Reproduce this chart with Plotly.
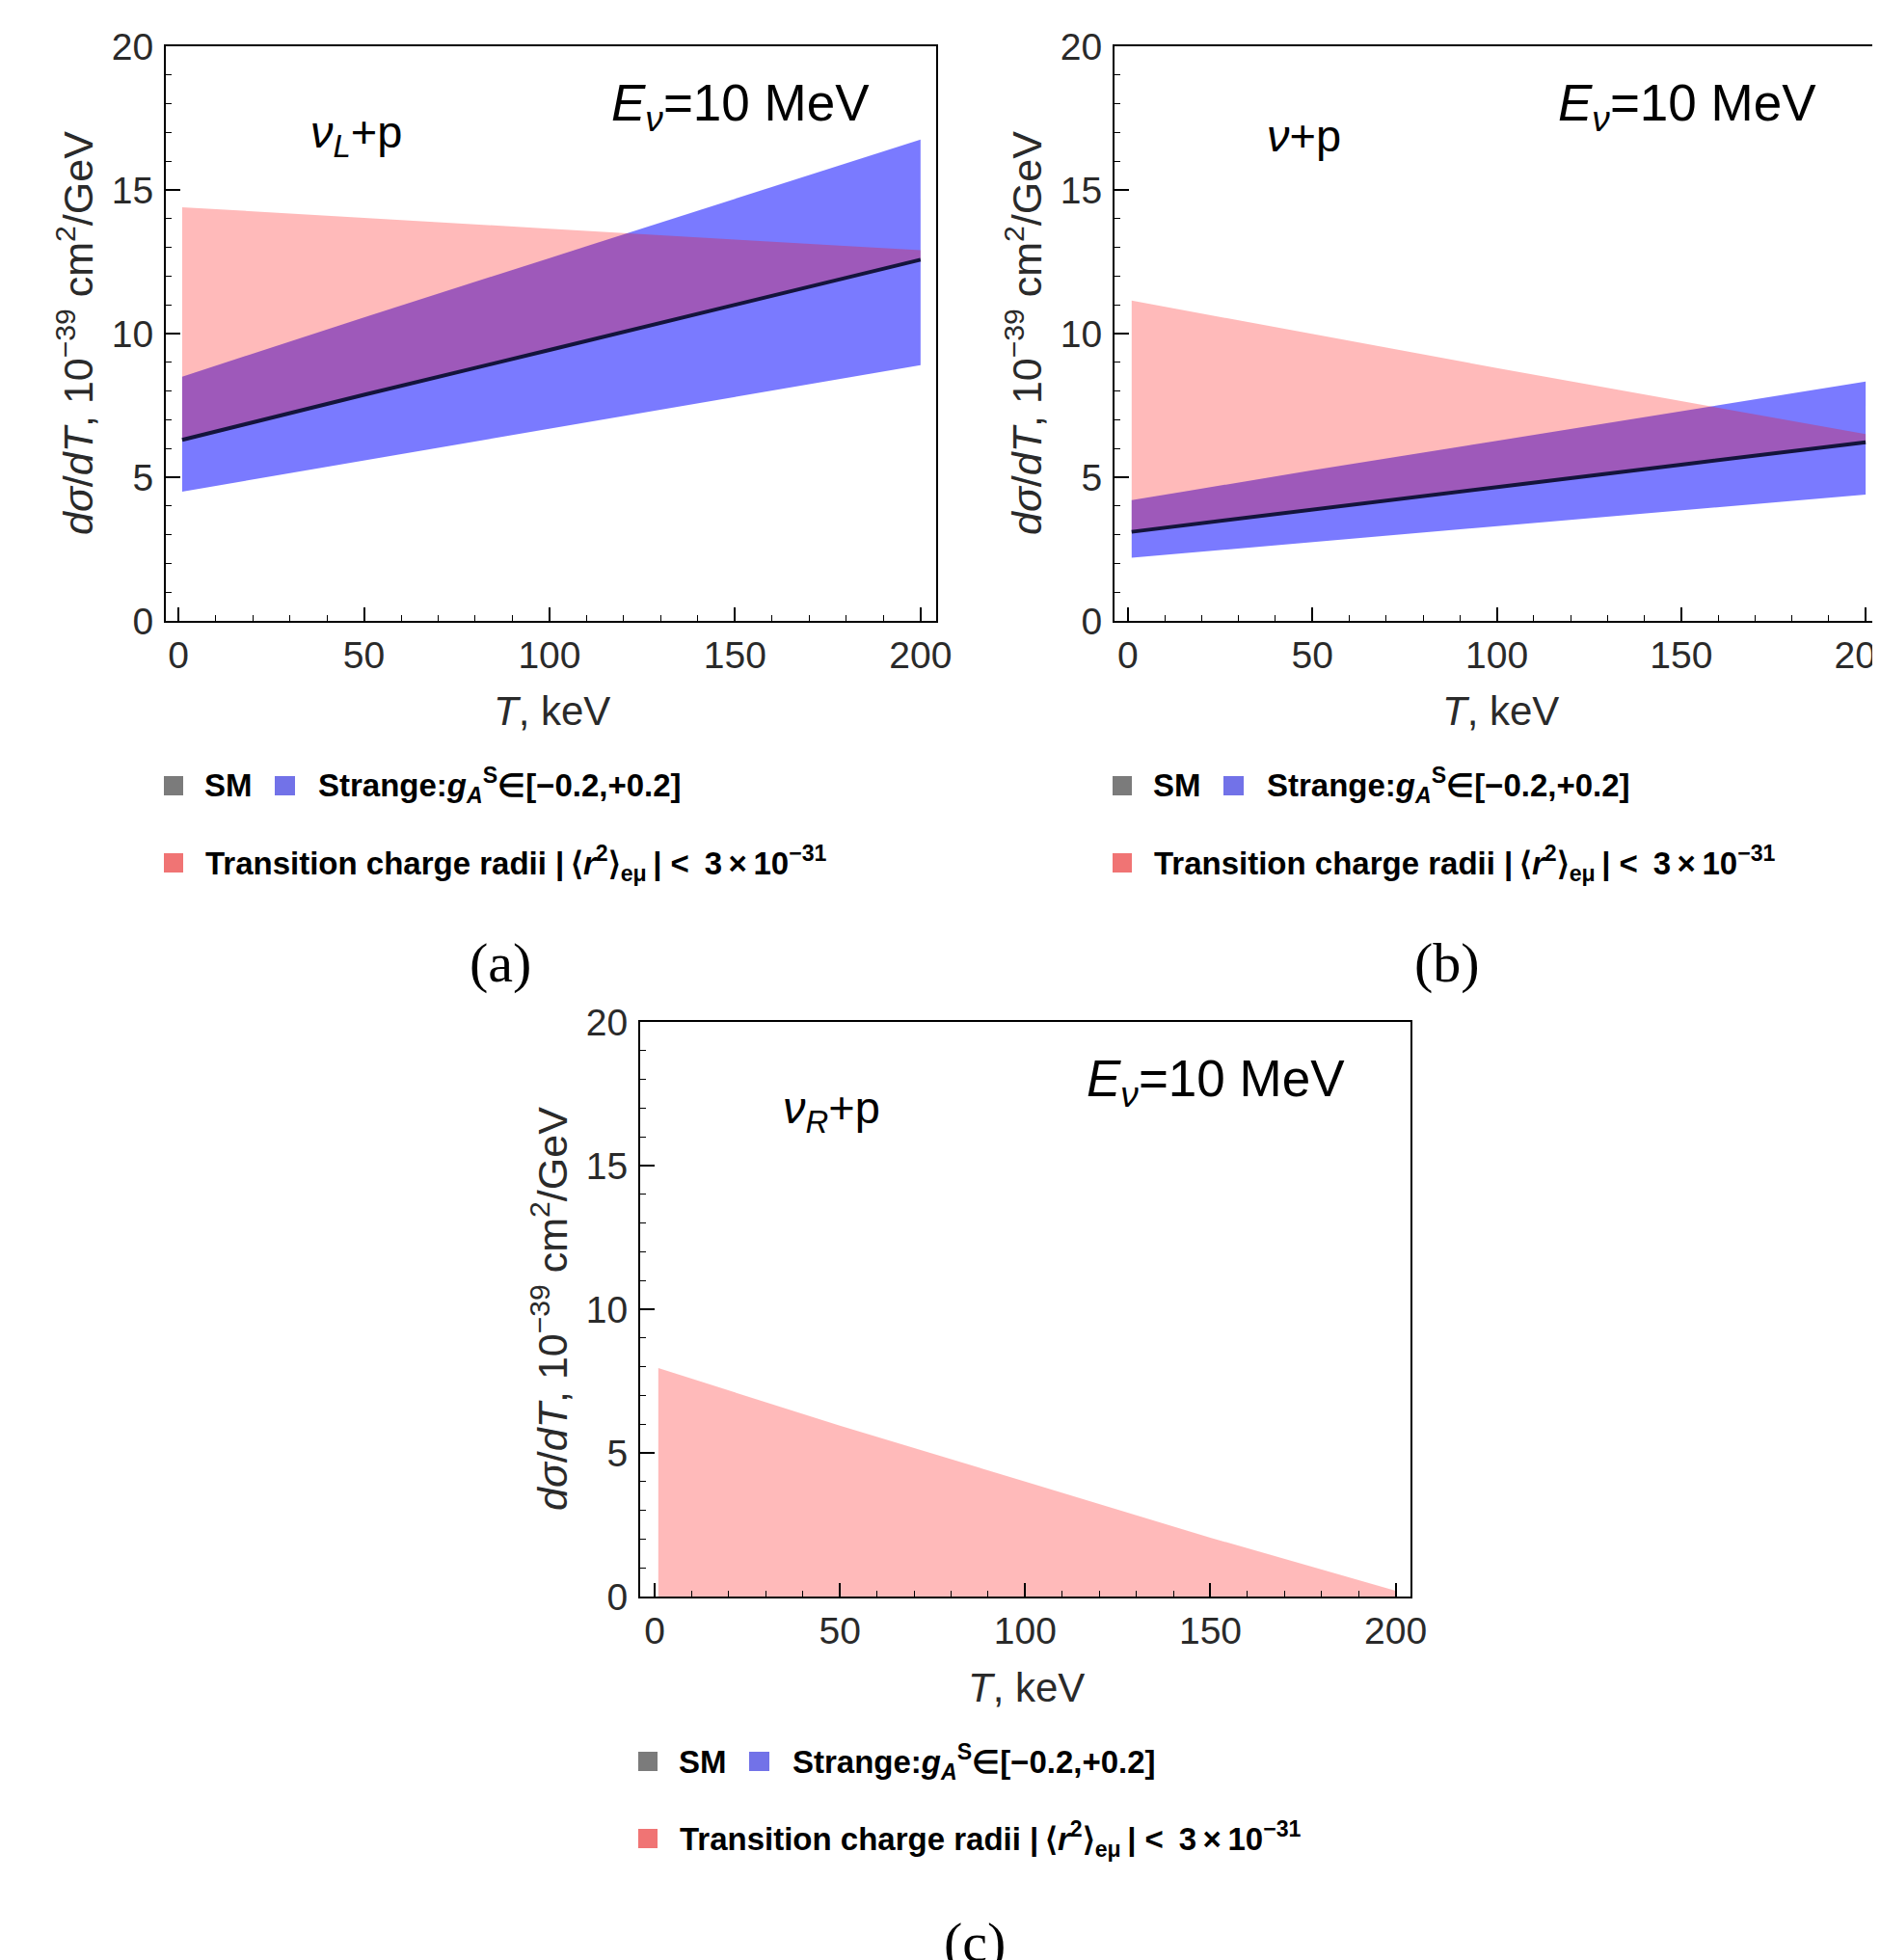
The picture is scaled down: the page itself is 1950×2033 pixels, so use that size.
import plotly.graph_objects as go

# ---------------- data ----------------
T = [1, 50, 100, 150, 200]                      # recoil energy, keV

# (a) nu_L + p
sm_a = [6.3, 7.87, 9.43, 11.0, 12.57]
strange_lo_a = [4.5, 5.6, 6.7, 7.8, 8.9]
strange_hi_a = [8.5, 10.56, 12.63, 14.69, 16.75]
radii_hi_a = [14.4, 14.02, 13.65, 13.27, 12.9]

# (b) nu + p
sm_b = [3.1, 3.88, 4.66, 5.44, 6.22]
strange_lo_b = [2.2, 2.75, 3.3, 3.85, 4.4]
strange_hi_b = [4.2, 5.24, 6.27, 7.3, 8.33]
radii_hi_b = [11.15, 9.98, 8.8, 7.65, 6.5]

# (c) nu_R + p
sm_c = [0, 0, 0, 0, 0]
radii_hi_c = [7.95, 5.95, 4.0, 2.05, 0.2]

x_ticks = [0, 50, 100, 150, 200]
y_ticks = [0, 5, 10, 15, 20]

process_labels = ["<i>ν</i><sub><i>L</i></sub>+p", "<i>ν</i>+p", "<i>ν</i><sub><i>R</i></sub>+p"]
energy_label = "<i>E</i><sub><i>ν</i></sub>=10 MeV"
panel_labels = ["(a)", "(b)", "(c)"]
leg_sm = "SM"
leg_strange = "Strange:<i>g</i><sub><i>A</i></sub><sup>S</sup>∈[−0.2,+0.2]"
leg_radii = ("Transition charge radii |&#8201;⟨<i>r</i><sup>2</sup>⟩<sub>eμ</sub>&#8201;| "
             "&lt;&#8201; 3&#8201;×&#8201;10<sup>−31</sup>")
y_title = "<i>dσ</i>/<i>dT</i>, 10<sup>−39</sup> cm<sup>2</sup>/GeV"
x_title = "<i>T</i>, keV"

# ---------------- layout helpers ----------------
W, H = 1950, 2033
OFF = 8  # page body margin
def px(x):
    return (x - OFF) / W
def py(y):
    return 1 - (y - OFF) / H

FRAME_W, FRAME_H = 799, 596
frames = [(172, 48), (1156, 48), (664, 1060)]   # left, top of each frame (screen px)

BLUE = "rgba(0,0,255,0.52)"
PINK = "rgba(255,0,0,0.27)"
SMCOL = "#14143c"
SANS = "Liberation Sans, Arial, Helvetica, sans-serif"
SERIF = "Liberation Serif, Times New Roman, serif"

fig = go.Figure()

def band(lo, hi, color, ax):
    fig.add_trace(go.Scatter(
        x=T + T[::-1], y=hi + lo[::-1], fill="toself", fillcolor=color,
        mode="lines", line=dict(width=0), hoverinfo="skip", showlegend=False,
        xaxis="x" + ax, yaxis="y" + ax))

def line(y, ax):
    fig.add_trace(go.Scatter(
        x=T, y=y, mode="lines", line=dict(color=SMCOL, width=4),
        hoverinfo="skip", showlegend=False, xaxis="x" + ax, yaxis="y" + ax))

band(strange_lo_a, strange_hi_a, BLUE, "")
band(sm_a, radii_hi_a, PINK, "")
line(sm_a, "")
band(strange_lo_b, strange_hi_b, BLUE, "2")
band(sm_b, radii_hi_b, PINK, "2")
line(sm_b, "2")
band(sm_c, radii_hi_c, PINK, "3")

tickfont = dict(family=SANS, size=39, color="#2a2a2a")

def xaxis(dom, anchor, rng):
    return dict(domain=dom, anchor=anchor, range=rng, tickmode="array", tickvals=x_ticks,
                ticks="inside", ticklen=14, tickwidth=1.5, tickcolor="black",
                minor=dict(tickmode="linear", tick0=0, dtick=10, ticks="inside",
                           ticklen=6, tickwidth=1.2, tickcolor="black"),
                showline=True, linecolor="black", linewidth=2, mirror=True,
                showgrid=False, zeroline=False, tickfont=tickfont, automargin=False,
                ticklabelstandoff=0, ticklabeloverflow="allow", fixedrange=True)

def yaxis(dom, anchor, mirror=True):
    return dict(domain=dom, anchor=anchor, range=[0, 20], tickmode="array", tickvals=y_ticks,
                ticks="inside", ticklen=15, tickwidth=1.5, tickcolor="black",
                minor=dict(tickmode="linear", tick0=0, dtick=1, ticks="inside",
                           ticklen=6, tickwidth=1.2, tickcolor="black"),
                showline=True, linecolor="black", linewidth=2, mirror=mirror,
                showgrid=False, zeroline=False, tickfont=tickfont, automargin=False,
                ticklabelstandoff=3, ticklabeloverflow="allow", fixedrange=True)

def xdom(i):
    l, t = frames[i]
    return [max(0.0, px(l)), min(1.0, px(l + FRAME_W))]

def ydom(i):
    l, t = frames[i]
    return [max(0.0, py(t + FRAME_H)), min(1.0, py(t))]

fig.update_layout(
    width=W, height=H, margin=dict(l=0, r=0, t=0, b=0, pad=0, autoexpand=False),
    paper_bgcolor="white", plot_bgcolor="white", showlegend=False,
    xaxis=xaxis(xdom(0), "y", [-3.4, 204.2]),
    yaxis=yaxis(ydom(0), "x"),
    xaxis2=xaxis(xdom(1), "y2", [-3.65, 205.2]),
    yaxis2=yaxis(ydom(1), "x2", mirror=False),
    xaxis3=xaxis(xdom(2), "y3", [-3.9, 204.0]),
    yaxis3=yaxis(ydom(2), "x3"),
)

annotations = []
shapes = []
axn = ["", "2", "3"]
for i, (fl, ft) in enumerate(frames):
    annotations.append(dict(x=151.5, y=17.9, xref="x" + axn[i], yref="y" + axn[i],
                            text=energy_label, showarrow=False, xanchor="center", yanchor="middle",
                            font=dict(family=SANS, size=53, color="black")))
    annotations.append(dict(x=47.8, y=16.9, xref="x" + axn[i], yref="y" + axn[i],
                            text=process_labels[i], showarrow=False, xanchor="center", yanchor="middle",
                            font=dict(family=SANS, size=47, color="black")))
    annotations.append(dict(x=px(fl + 400), y=py(ft + 690), xref="paper", yref="paper",
                            text=x_title, showarrow=False, xanchor="center", yanchor="middle",
                            font=dict(family=SANS, size=42, color="#2a2a2a")))
    annotations.append(dict(x=px(fl - 94), y=py(ft + 298), xref="paper", yref="paper",
                            text=y_title, textangle=-90, showarrow=False,
                            xanchor="center", yanchor="middle",
                            font=dict(family=SANS, size=43, color="#2a2a2a")))
    r1 = ft + 767
    r2 = ft + 847
    for (x0, x1, yc, col) in [(fl - 2, fl + 18, r1, "#7b7b7b"),
                              (fl + 113, fl + 134, r1, "#7272e8"),
                              (fl - 2, fl + 18, r2, "#f07474")]:
        shapes.append(dict(type="rect", xref="paper", yref="paper",
                           x0=px(x0), x1=px(x1), y0=py(yc + 10), y1=py(yc - 10),
                           fillcolor=col, line=dict(width=0)))
    lf = dict(family=SANS, size=33, color="black")
    annotations.append(dict(x=px(fl + 38), y=py(r1), xref="paper", yref="paper",
                            text="<b>" + leg_sm + "</b>", showarrow=False,
                            xanchor="left", yanchor="middle", font=lf))
    annotations.append(dict(x=px(fl + 156), y=py(r1), xref="paper", yref="paper",
                            text="<b>" + leg_strange + "</b>", showarrow=False,
                            xanchor="left", yanchor="middle", font=lf))
    annotations.append(dict(x=px(fl + 39), y=py(r2), xref="paper", yref="paper",
                            text="<b>" + leg_radii + "</b>", showarrow=False,
                            xanchor="left", yanchor="middle", font=lf))

for (xc, yc, lab) in [(519, 998, panel_labels[0]), (1501, 998, panel_labels[1]),
                      (1011, 2014, panel_labels[2])]:
    annotations.append(dict(x=px(xc), y=py(yc), xref="paper", yref="paper", text=lab,
                            showarrow=False, xanchor="center", yanchor="middle",
                            font=dict(family=SERIF, size=58, color="black")))

fig.update_layout(annotations=annotations, shapes=shapes)
fig.write_html("out.html")
